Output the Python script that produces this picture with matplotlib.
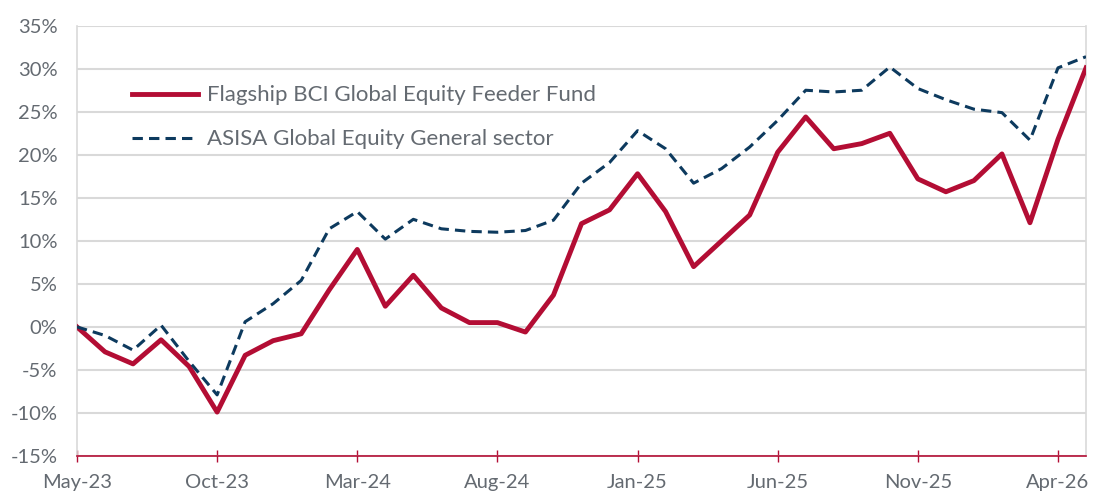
import matplotlib.pyplot as plt
import pandas as pd

# monatliche Werte, Mai 2023 bis Mai 2026 (kumulierte Rendite in %)
months = pd.date_range("2023-05-01", periods=37, freq="MS")
fund = [0.0, -2.9, -4.3, -1.5, -4.6, -9.9, -3.3, -1.6, -0.8, 4.3,
        9.0, 2.4, 6.0, 2.2, 0.5, 0.5, -0.6, 3.7, 12.0, 13.6,
        17.8, 13.4, 7.0, 10.0, 13.0, 20.3, 24.4, 20.7, 21.3, 22.5,
        17.2, 15.7, 17.0, 20.1, 12.1, 21.8, 30.1]
sector = [0.0, -1.0, -2.7, 0.2, -4.0, -7.9, 0.6, 2.7, 5.4, 11.4,
          13.4, 10.2, 12.5, 11.4, 11.1, 11.0, 11.2, 12.4, 16.7, 19.1,
          22.8, 20.7, 16.7, 18.4, 20.9, 24.0, 27.5, 27.3, 27.5, 30.2,
          27.7, 26.4, 25.3, 24.9, 21.7, 30.1, 31.4]
fund_label = "Flagship BCI Global Equity Feeder Fund"
sector_label = "ASISA Global Equity General sector"
y_ticks = list(range(-15, 36, 5))
tick_pos = list(range(0, 37, 5))
tick_labels = [months[i].strftime("%b-%y") for i in tick_pos]

red = "#B30D34"
navy = "#0D3A5E"
grey_text = "#646A71"
grid_col = "#D9D9D9"

plt.rcParams["font.family"] = ["Lato", "DejaVu Sans"]

fig = plt.figure(figsize=(10.95, 4.99), dpi=100)
ax = fig.add_axes([0.0703, 0.0862, 0.9215, 0.8623])

x = list(range(len(months)))
ax.plot(x, fund, color=red, lw=3.5, label=fund_label, zorder=3)
ax.plot(x, sector, color=navy, lw=2.2, ls=(0, (3.4, 2.0)), label=sector_label, zorder=3)

ax.set_xlim(0, 36)
ax.set_ylim(-15, 35)
ax.set_yticks(y_ticks)
ax.set_yticklabels([f"{v}%" for v in y_ticks])
ax.set_xticks(tick_pos)
ax.set_xticklabels(tick_labels)

ax.grid(axis="y", color=grid_col, lw=1.5, zorder=0)
ax.tick_params(axis="y", length=0, pad=14, labelsize=14.5, labelcolor=grey_text)
ax.tick_params(axis="x", direction="inout", length=8, width=1, color=red, pad=9,
               labelsize=14.5, labelcolor=grey_text)

for s in ["left", "right"]:
    ax.spines[s].set_color(grid_col)
    ax.spines[s].set_linewidth(1.2)
ax.spines["top"].set_visible(False)
ax.spines["bottom"].set_color(red)
ax.spines["bottom"].set_linewidth(1.2)

leg = ax.legend(loc="upper left", bbox_to_anchor=(0.035, 0.908), frameon=False,
                fontsize=16, handlelength=2.95, handletextpad=0.42, labelspacing=1.08)
for t in leg.get_texts():
    t.set_color(grey_text)

fig.savefig("out.png", dpi=100)
